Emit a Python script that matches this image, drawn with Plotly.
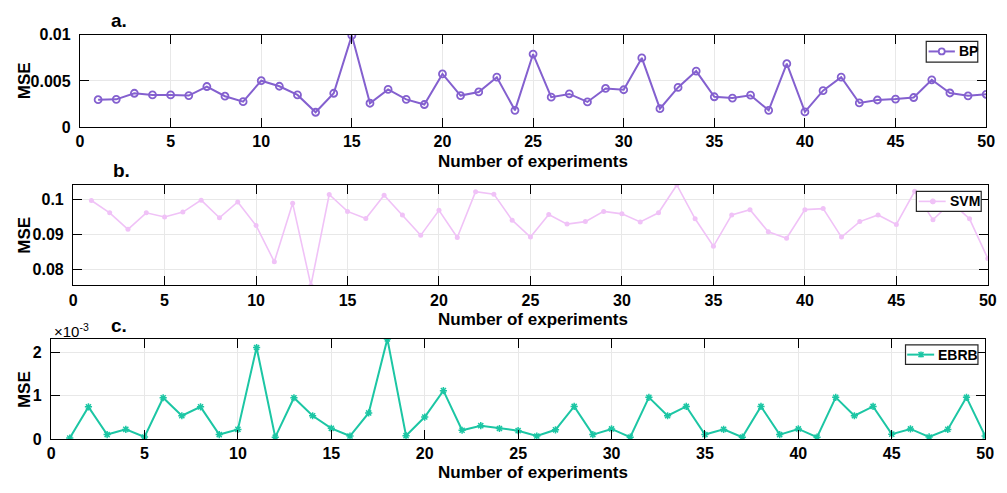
import plotly.graph_objects as go

experiments = list(range(1, 51))

bp_mse = [0.00296, 0.00300, 0.00366, 0.00348, 0.00348, 0.00341, 0.00439, 0.00334, 0.00275, 0.00502,
          0.00442, 0.00348, 0.00160, 0.00366, 0.00993, 0.00258, 0.00408, 0.00300, 0.00244, 0.00575,
          0.00341, 0.00380, 0.00540, 0.00181, 0.00791, 0.00324, 0.00359, 0.00272, 0.00418, 0.00404,
          0.00749, 0.00199, 0.00429, 0.00606, 0.00328, 0.00314, 0.00345, 0.00181, 0.00686, 0.00164,
          0.00394, 0.00540, 0.00261, 0.00293, 0.00303, 0.00320, 0.00512, 0.00369, 0.00338, 0.00355]

svm_mse = [0.0997, 0.0962, 0.0915, 0.0962, 0.0950, 0.0964, 0.0998, 0.0948, 0.0993, 0.0926,
           0.0823, 0.0989, 0.0756, 0.1014, 0.0966, 0.0946, 0.1012, 0.0956, 0.0898, 0.0969,
           0.0892, 0.1022, 0.1015, 0.0941, 0.0893, 0.0957, 0.0930, 0.0937, 0.0966, 0.0959,
           0.0936, 0.0962, 0.1041, 0.0945, 0.0867, 0.0956, 0.0971, 0.0908, 0.0890, 0.0971,
           0.0974, 0.0893, 0.0937, 0.0956, 0.0929, 0.1023, 0.0942, 0.0992, 0.0945, 0.0832]

ebrb_mse = [0.02e-3, 0.74e-3, 0.10e-3, 0.22e-3, 0.045e-3, 0.95e-3, 0.535e-3, 0.74e-3, 0.10e-3, 0.22e-3,
            2.11e-3, 0.04e-3, 0.95e-3, 0.535e-3, 0.245e-3, 0.067e-3, 0.60e-3, 2.31e-3, 0.074e-3, 0.505e-3,
            1.115e-3, 0.20e-3, 0.305e-3, 0.24e-3, 0.19e-3, 0.067e-3, 0.21e-3, 0.75e-3, 0.10e-3, 0.23e-3,
            0.04e-3, 0.96e-3, 0.535e-3, 0.75e-3, 0.10e-3, 0.22e-3, 0.04e-3, 0.75e-3, 0.10e-3, 0.23e-3,
            0.04e-3, 0.96e-3, 0.535e-3, 0.75e-3, 0.11e-3, 0.23e-3, 0.045e-3, 0.22e-3, 0.96e-3, 0.067e-3]

series_names = ["BP", "SVM", "EBRB"]
x_ticks = list(range(0, 51, 5))
bp_ticks = [0, 0.005, 0.01]
bp_ticktext = ["0", "0.005", "0.01"]
svm_ticks = [0.08, 0.09, 0.1]
svm_ticktext = ["0.08", "0.09", "0.1"]
ebrb_ticks = [0, 1e-3, 2e-3]
ebrb_ticktext = ["0", "1", "2"]

W, H = 1007, 493
FONT = "Liberation Sans, Arial, sans-serif"
BP_C = "#8460CF"
SVM_C = "#F0C2F7"
EBRB_C = "#1CC6A4"


def px(x):
    return x / W


def py(y):
    return 1 - y / H


fig = go.Figure()
fig.add_trace(go.Scatter(x=experiments, y=bp_mse, name=series_names[0], mode="lines+markers",
                         line=dict(color=BP_C, width=2),
                         marker=dict(symbol="circle-open", size=7, color=BP_C, line=dict(width=1.8)),
                         xaxis="x", yaxis="y", showlegend=False))
fig.add_trace(go.Scatter(x=experiments, y=svm_mse, name=series_names[1], mode="lines+markers",
                         line=dict(color=SVM_C, width=1.6),
                         marker=dict(symbol="circle", size=5, color=SVM_C),
                         xaxis="x2", yaxis="y2", showlegend=False))
fig.add_trace(go.Scatter(x=experiments, y=ebrb_mse, name=series_names[2], mode="lines+markers",
                         line=dict(color=EBRB_C, width=2),
                         marker=dict(symbol="asterisk-open", size=6, color=EBRB_C,
                                     line=dict(width=1.5, color=EBRB_C)),
                         xaxis="x3", yaxis="y3", showlegend=False))

tickfont = dict(family=FONT, size=16, color="black", weight="bold")
common_x = dict(range=[0, 50], tickvals=x_ticks, ticks="inside", ticklen=9, tickwidth=1, tickcolor="black",
                showline=True, linecolor="black", linewidth=1.3, mirror="ticks",
                showgrid=True, gridcolor="#e8e8e8", gridwidth=1, zeroline=False, tickfont=tickfont,
                ticklabelstandoff=0)
common_y = dict(ticks="inside", ticklen=9, tickwidth=1, tickcolor="black",
                showline=True, linecolor="black", linewidth=1.3, mirror="ticks",
                showgrid=True, gridcolor="#e8e8e8", gridwidth=1, zeroline=False, tickfont=tickfont,
                ticklabelstandoff=5)

fig.update_layout(
    width=W, height=H,
    showlegend=False,
    margin=dict(l=0, r=0, t=0, b=0),
    paper_bgcolor="white", plot_bgcolor="white",
    xaxis=dict(domain=[px(77), px(995)], anchor="y", **common_x),
    yaxis=dict(domain=[py(123.3), py(27.7)], anchor="x", range=[0, 0.01],
               tickvals=bp_ticks, ticktext=bp_ticktext, **common_y),
    xaxis2=dict(domain=[px(70), px(996.7)], anchor="y2", **common_x),
    yaxis2=dict(domain=[py(287.3), py(183.3)], anchor="x2", range=[min(svm_mse), max(svm_mse)],
                tickvals=svm_ticks, ticktext=svm_ticktext, **common_y),
    xaxis3=dict(domain=[px(47.7), px(994)], anchor="y3", **common_x),
    yaxis3=dict(domain=[py(446.3), py(342.7)], anchor="x3", range=[0, max(ebrb_mse)],
                tickvals=ebrb_ticks, ticktext=ebrb_ticktext, **common_y),
)

shapes = []
annotations = []

# legend boxes (drawn as shapes + text so their compact size matches the original)
legend_specs = [
    # box x0, x1, y0, y1, line x0, x1, centre y, marker x, text x, name, colour, marker kind
    (934.3, 986.5, 34.5, 56, 936.7, 963.3, 45, 950, 965, series_names[0], BP_C, "open"),
    (924.3, 990, 190, 210.7, 926.7, 954, 200.3, 941, 956, series_names[1], SVM_C, "dot"),
    (913.3, 986.7, 349, 369, 915, 942.3, 359, 929, 944.3, series_names[2], EBRB_C, "star"),
]
for bx0, bx1, by0, by1, lx0, lx1, ly, mx, tx, name, col, kind in legend_specs:
    shapes.append(dict(type="rect", xref="paper", yref="paper", x0=px(bx0), x1=px(bx1), y0=py(by1), y1=py(by0),
                       fillcolor="white", line=dict(color="#262626", width=1.2), layer="above"))
    shapes.append(dict(type="line", xref="paper", yref="paper", x0=px(lx0), x1=px(lx1), y0=py(ly), y1=py(ly),
                       line=dict(color=col, width=2 if kind != "dot" else 1.6), layer="above"))
    if kind == "open":
        shapes.append(dict(type="circle", xref="paper", yref="paper", xsizemode="pixel", ysizemode="pixel",
                           xanchor=px(mx), yanchor=py(ly), x0=-3, x1=3, y0=-3, y1=3,
                           fillcolor="white", line=dict(color=col, width=1.8), layer="above"))
    elif kind == "dot":
        shapes.append(dict(type="circle", xref="paper", yref="paper", xsizemode="pixel", ysizemode="pixel",
                           xanchor=px(mx), yanchor=py(ly), x0=-2.5, x1=2.5, y0=-2.5, y1=2.5,
                           fillcolor=col, line=dict(color=col, width=1), layer="above"))
    else:
        shapes.append(dict(type="path", xref="paper", yref="paper", xsizemode="pixel", ysizemode="pixel",
                           xanchor=px(mx), yanchor=py(ly),
                           path="M-2.5,-2.5 L2.5,2.5 M-2.5,2.5 L2.5,-2.5 M0,-3 L0,3",
                           line=dict(color=col, width=1.5), layer="above"))
    annotations.append(dict(text=name, x=px(tx), y=py(ly), xref="paper", yref="paper", showarrow=False,
                            font=dict(family=FONT, size=14, color="black", weight="bold"),
                            xanchor="left", yanchor="middle"))

title_font = dict(family=FONT, size=17, color="black", weight="bold")
label_font = dict(family=FONT, size=19, color="black", weight="bold")
for yc in [159, 323]:
    annotations.append(dict(text="Number of experiments", x=px(536), y=py(yc), xref="paper", yref="paper",
                            showarrow=False, font=title_font, xanchor="center", yanchor="middle"))
annotations.append(dict(text="Number of experiments", x=px(536), y=0, xref="paper", yref="paper",
                        showarrow=False, font=title_font, xanchor="center", yanchor="bottom"))
for yc in [75, 235, 395]:
    annotations.append(dict(text="MSE", x=px(21), y=py(yc), xref="paper", yref="paper", textangle=-90,
                            showarrow=False, font=title_font, xanchor="center", yanchor="middle"))
for lab, xc, yc in [("a.", 117, 13), ("b.", 119, 168), ("c.", 117, 329)]:
    annotations.append(dict(text=lab, x=px(xc), y=py(yc), xref="paper", yref="paper",
                            showarrow=False, font=label_font, xanchor="center", yanchor="middle"))
annotations.append(dict(text="×10<sup>-3</sup>", x=px(49), y=py(334), xref="paper", yref="paper",
                        showarrow=False, font=dict(family=FONT, size=15, color="black"),
                        xanchor="left", yanchor="middle"))
fig.update_layout(shapes=shapes, annotations=annotations)

fig.write_html("out.html")
